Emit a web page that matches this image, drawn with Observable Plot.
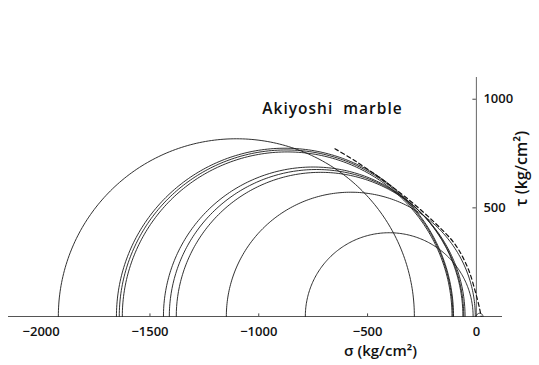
<!DOCTYPE html>
<html>
<head>
<meta charset="utf-8">
<script src="https://cdn.jsdelivr.net/npm/d3@7"></script>
<script src="https://cdn.jsdelivr.net/npm/@observablehq/plot@0.6"></script>
<style>
  html, body { margin: 0; padding: 0; background: #fff; }
  #chart svg { display: block; }
  .title text { letter-spacing: 1px; }
</style>
</head>
<body>
<div id="chart"></div>
<script>
// Mohr circles: sigma1 (left end) and sigma3 (right end), kg/cm^2, compression negative
const circleSigma1 = [-1921, -1654, -1641, -1627, -1438, -1411, -1379, -1149, -786, 0];
const circleSigma3 = [-285, -105, -108, -112, -62, -58, -52, -5, -15, 30];

// Failure envelope (dashed)
const envSigma = [-650, -560, -440, -320, -200, -100, -40, -5, 15, 22];
const envTau   = [772, 718, 636, 545, 440, 335, 225, 115, 35, 0];

// Axis ticks
const xTicks = [-2000, -1500, -1000, -500, 0];
const xMinorTicks = [-1500, -1000, -500];
const yTicks = [500, 1000];

const title = "Akiyoshi  marble";
const xLabel = "σ (kg/cm²)";
const yLabel = "τ (kg/cm²)";

// Build semicircle paths from each circle's end points
const arcs = [];
circleSigma1.forEach((s1, i) => {
  const s3 = circleSigma3[i];
  const c = (s1 + s3) / 2, r = Math.abs(s3 - s1) / 2;
  for (let k = 0; k <= 180; k++) {
    const a = Math.PI * k / 180;
    arcs.push({id: i, s: c + r * Math.cos(a), t: r * Math.sin(a)});
  }
});
const envelope = envSigma.map((s, i) => ({s, t: envTau[i]}));

const font = "'Open Sans', 'DejaVu Sans', sans-serif";

const chart = Plot.plot({
  width: 539,
  height: 365,
  marginLeft: 8,
  marginRight: 37,
  marginTop: 77,
  marginBottom: 49,
  style: {background: "#fff", fontFamily: font, color: "#111"},
  x: {domain: [-2150, 120], axis: null},
  y: {domain: [0, 1100], axis: null},
  marks: [
    // axes lines
    Plot.ruleY([0], {stroke: "#555", strokeWidth: 1}),
    Plot.ruleX([0], {y1: 0, y2: 1100, stroke: "#666", strokeWidth: 1}),
    // small ticks
    Plot.ruleX(xMinorTicks, {x: d => d, y1: 0, y2: 12, stroke: "#444", strokeWidth: 1}),
    Plot.ruleY(yTicks, {y: d => d, x1: -16, x2: 0, stroke: "#444", strokeWidth: 1}),
    // Mohr circles
    Plot.line(arcs, {x: "s", y: "t", z: "id", stroke: "#1a1a1a", strokeWidth: 0.9}),
    // envelope
    Plot.line(envelope, {x: "s", y: "t", curve: "catmull-rom", stroke: "#111", strokeWidth: 1.2, strokeDasharray: "4,3"}),
    // tick labels
    Plot.text(xTicks, {x: d => d, y: 0, text: d => d === 0 ? "0" : "−" + Math.abs(d), dy: 15, fontSize: 13, fontWeight: 600, fill: "#111"}),
    Plot.text(yTicks, {x: 0, y: d => d, text: d => String(d), dx: 7, textAnchor: "start", fontSize: 13, fontWeight: 600, fill: "#111"}),
    // titles
    Plot.text([title], {frameAnchor: "top", dx: 77, dy: 25, fontSize: 15.5, fontWeight: 600, fill: "#111", className: "title"}),
    Plot.text([xLabel], {frameAnchor: "bottom", dx: 125, dy: 39, fontSize: 15, fontWeight: 600, fill: "#111"}),
    Plot.text([yLabel], {x: [211], y: [680], rotate: -90, fontSize: 16, fontWeight: 600, fill: "#111"})
  ]
});
document.getElementById("chart").appendChild(chart);
</script>
</body>
</html>
